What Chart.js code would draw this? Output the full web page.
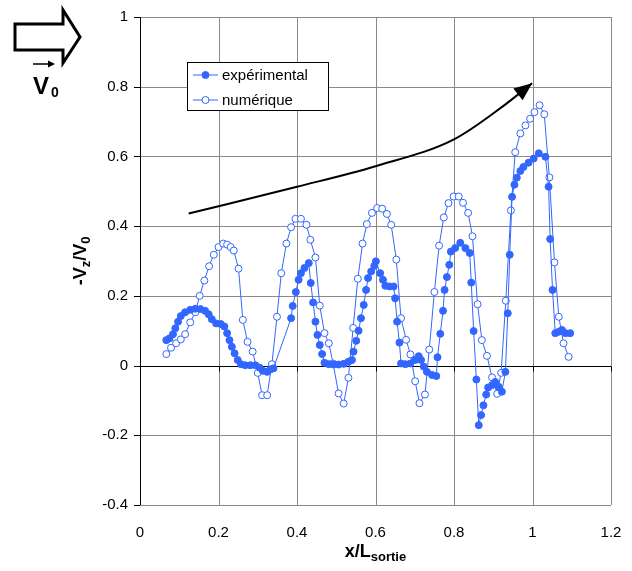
<!DOCTYPE html>
<html>
<head>
<meta charset="utf-8">
<script src="https://cdn.jsdelivr.net/npm/chart.js@4/dist/chart.umd.min.js"></script>
<style>
    html, body { margin: 0; padding: 0; background: #fff; }
    #wrap { position: relative; width: 632px; height: 571px; }
</style>
</head>
<body>
<div id="wrap"><canvas id="chart"></canvas></div>
<script>
// Series values
const expX = [0.067, 0.075, 0.084, 0.090, 0.097, 0.104, 0.115, 0.128, 0.141, 0.154,
    0.166, 0.175, 0.183, 0.194, 0.206, 0.215, 0.222, 0.228, 0.234, 0.241,
    0.249, 0.257, 0.268, 0.281, 0.294, 0.305, 0.313, 0.324, 0.332, 0.340,
    0.385, 0.389, 0.397, 0.404, 0.410, 0.419, 0.430, 0.435, 0.441, 0.447,
    0.452, 0.458, 0.464, 0.470, 0.481, 0.493, 0.506, 0.519, 0.531, 0.540,
    0.544, 0.551, 0.557, 0.563, 0.570, 0.576, 0.581, 0.589, 0.597, 0.601,
    0.612, 0.619, 0.625, 0.636, 0.646, 0.650, 0.655, 0.661, 0.665, 0.676,
    0.689, 0.701, 0.710, 0.716, 0.723, 0.731, 0.744, 0.755,
    0.758, 0.765, 0.772, 0.776, 0.782, 0.788, 0.792, 0.803, 0.816, 0.829,
    0.840, 0.844, 0.850, 0.857, 0.863, 0.869, 0.875, 0.882, 0.887, 0.897,
    0.905, 0.914, 0.922,
    0.931, 0.937, 0.942, 0.948, 0.954, 0.960, 0.969, 0.977, 0.990, 1.003,
    1.016, 1.033, 1.041, 1.045, 1.051, 1.058, 1.067, 1.075, 1.084, 1.096];
const expY = [0.073, 0.078, 0.090, 0.107, 0.126, 0.142, 0.153, 0.160, 0.163, 0.162,
    0.157, 0.147, 0.133, 0.121, 0.119, 0.112, 0.093, 0.073, 0.054, 0.035,
    0.016, 0.004, 0.001, 0.001, 0.001, -0.006, -0.015, -0.018, -0.011, -0.008,
    0.136, 0.171, 0.211, 0.246, 0.265, 0.280, 0.294, 0.237, 0.181, 0.126,
    0.088, 0.059, 0.033, 0.008, 0.004, 0.003, 0.003, 0.005, 0.011, 0.016,
    0.040, 0.071, 0.100, 0.136, 0.174, 0.217, 0.251, 0.270, 0.286, 0.299,
    0.265, 0.246, 0.229, 0.227, 0.227, 0.193, 0.126, 0.066, 0.006, 0.004,
    0.006, 0.016, 0.027, 0.016, -0.003, -0.018, -0.027, -0.030,
    0.024, 0.091, 0.157, 0.217, 0.254, 0.289, 0.327, 0.337, 0.352, 0.337,
    0.323, 0.238, 0.099, -0.040, -0.171, -0.142, -0.114, -0.083, -0.063, -0.056,
    -0.047, -0.061, -0.075,
    -0.018, 0.150, 0.318, 0.484, 0.519, 0.539, 0.558, 0.570, 0.582, 0.594,
    0.609, 0.599, 0.513, 0.363, 0.217, 0.093, 0.097, 0.102, 0.093, 0.093];

const numX = [0.067, 0.079, 0.092, 0.104, 0.115, 0.128, 0.141, 0.152, 0.164, 0.176,
    0.188, 0.200, 0.212, 0.222, 0.231, 0.239, 0.251, 0.262, 0.274, 0.287,
    0.300, 0.311, 0.324, 0.336, 0.349, 0.360, 0.373, 0.385, 0.396, 0.410,
    0.424, 0.434, 0.447, 0.458, 0.470, 0.481, 0.492, 0.506, 0.519, 0.531,
    0.543, 0.555, 0.567, 0.578, 0.591, 0.604, 0.617, 0.629, 0.640, 0.653,
    0.665, 0.678, 0.689, 0.701, 0.712, 0.726, 0.737, 0.750, 0.762, 0.774,
    0.786, 0.799, 0.812, 0.823, 0.836, 0.847, 0.860, 0.871, 0.884, 0.897,
    0.910, 0.920, 0.932, 0.945, 0.956, 0.969, 0.982, 0.994, 1.005, 1.018,
    1.030, 1.043, 1.056, 1.067, 1.079, 1.092];
const numY = [0.033, 0.051, 0.064, 0.075, 0.090, 0.124, 0.153, 0.200, 0.244, 0.285,
    0.318, 0.340, 0.350, 0.347, 0.340, 0.330, 0.278, 0.131, 0.068, 0.040,
    -0.021, -0.085, -0.085, 0.004, 0.140, 0.265, 0.350, 0.397, 0.421, 0.421,
    0.404, 0.361, 0.310, 0.172, 0.093, 0.064, 0.006, -0.080, -0.109, -0.035,
    0.108, 0.249, 0.350, 0.406, 0.438, 0.452, 0.450, 0.435, 0.404, 0.304,
    0.136, 0.074, 0.032, -0.045, -0.108, -0.083, 0.046, 0.211, 0.344, 0.425,
    0.466, 0.485, 0.485, 0.467, 0.438, 0.371, 0.176, 0.073, 0.028, -0.034,
    -0.081, -0.021, 0.186, 0.445, 0.612, 0.666, 0.689, 0.708, 0.727, 0.747,
    0.721, 0.540, 0.296, 0.140, 0.064, 0.025];

// Trend arrow drawn over the plot
const trendX = [0.124, 0.4, 0.6, 0.8, 0.926, 0.999];
const trendY = [0.436, 0.513, 0.572, 0.649, 0.745, 0.81];

// Axis settings
const xMin = 0, xMax = 1.2, xStep = 0.2;
const yMin = -0.4, yMax = 1, yStep = 0.2;

const seriesNames = ['expérimental', 'numérique'];
const blue = '#3366ff';
const gridGrey = '#8a8a8a';
const FONT = '"Liberation Sans", Arial, sans-serif';

function toPoints(xs, ys) {
    return xs.map((x, i) => ({ x: x, y: ys[i] }));
}

// Draw text made of normal and subscript parts, centred on x
function drawParts(ctx, parts, x, y) {
    let total = 0;
    parts.forEach(p => {
        ctx.font = p.font;
        p.w = ctx.measureText(p.text).width;
        total += p.w;
    });
    let cx = x - total / 2;
    parts.forEach(p => {
        ctx.font = p.font;
        ctx.fillText(p.text, cx, y + (p.dy || 0));
        cx += p.w;
    });
}

// Grid drawn by hand so it stays crisp and under the data
const gridPlugin = {
    id: 'gridLines',
    beforeDatasetsDraw(chart) {
        const ctx = chart.ctx;
        const xs = chart.scales.x, ys = chart.scales.y;
        const a = chart.chartArea;
        ctx.save();
        ctx.lineWidth = 1;
        for (let i = 0; i <= Math.round((xMax - xMin) / xStep); i++) {
            const px = Math.round(xs.getPixelForValue(xMin + i * xStep)) + 0.5;
            ctx.strokeStyle = i === 0 ? '#000' : gridGrey;
            ctx.beginPath();
            ctx.moveTo(px, a.top);
            ctx.lineTo(px, a.bottom);
            ctx.stroke();
        }
        for (let i = 0; i <= Math.round((yMax - yMin) / yStep); i++) {
            const v = yMin + i * yStep;
            const py = Math.round(ys.getPixelForValue(v)) + 0.5;
            ctx.strokeStyle = Math.abs(v) < 1e-9 ? '#000' : gridGrey;
            ctx.beginPath();
            ctx.moveTo(a.left, py);
            ctx.lineTo(a.right, py);
            ctx.stroke();
            // outside tick on the y axis
            ctx.strokeStyle = '#000';
            ctx.beginPath();
            ctx.moveTo(a.left - 6, py);
            ctx.lineTo(a.left, py);
            ctx.stroke();
        }
        // small ticks below the zero line
        const y0 = Math.round(ys.getPixelForValue(0)) + 0.5;
        ctx.strokeStyle = '#000';
        for (let i = 1; i <= Math.round((xMax - xMin) / xStep); i++) {
            const px = Math.round(xs.getPixelForValue(xMin + i * xStep)) + 0.5;
            ctx.beginPath();
            ctx.moveTo(px, y0);
            ctx.lineTo(px, y0 + 5);
            ctx.stroke();
        }
        // redraw zero line and y axis on top of grey lines
        ctx.beginPath();
        ctx.moveTo(a.left, y0);
        ctx.lineTo(a.right, y0);
        ctx.stroke();
        const x0 = Math.round(xs.getPixelForValue(0)) + 0.5;
        ctx.beginPath();
        ctx.moveTo(x0, a.top);
        ctx.lineTo(x0, a.bottom);
        ctx.stroke();
        ctx.restore();
    }
};

const extrasPlugin = {
    id: 'extras',
    afterDatasetsDraw(chart) {
        const ctx = chart.ctx;
        const xs = chart.scales.x, ys = chart.scales.y;
        ctx.save();

        // arrowhead at the end of the trend curve
        const n = trendX.length;
        const tipX = xs.getPixelForValue(trendX[n - 1]);
        const tipY = ys.getPixelForValue(trendY[n - 1]);
        const bx = xs.getPixelForValue(trendX[n - 2]);
        const by = ys.getPixelForValue(trendY[n - 2]);
        const ang = Math.atan2(tipY - by, tipX - bx);
        const len = 18, half = 7.5;
        ctx.fillStyle = '#000';
        ctx.beginPath();
        ctx.moveTo(tipX, tipY);
        ctx.lineTo(tipX - len * Math.cos(ang) + half * Math.sin(ang), tipY - len * Math.sin(ang) - half * Math.cos(ang));
        ctx.lineTo(tipX - len * Math.cos(ang) - half * Math.sin(ang), tipY - len * Math.sin(ang) + half * Math.cos(ang));
        ctx.closePath();
        ctx.fill();

        // legend box
        const lx = 187.5, ly = 62.5, lw = 141, lh = 48;
        ctx.lineWidth = 1;
        ctx.fillStyle = '#fff';
        ctx.fillRect(lx, ly, lw, lh);
        ctx.strokeStyle = '#000';
        ctx.strokeRect(lx, ly, lw, lh);
        ctx.font = '15px ' + FONT;
        ctx.textBaseline = 'middle';
        seriesNames.forEach((name, i) => {
            const ry = 75 + i * 25;
            ctx.strokeStyle = blue;
            ctx.beginPath();
            ctx.moveTo(193, ry);
            ctx.lineTo(218, ry);
            ctx.stroke();
            ctx.beginPath();
            ctx.arc(205.5, ry, 3.5, 0, Math.PI * 2);
            ctx.fillStyle = i === 0 ? blue : '#fff';
            ctx.fill();
            ctx.stroke();
            ctx.fillStyle = '#000';
            ctx.fillText(name, 222, ry + 1);
        });

        // axis titles with subscripts
        ctx.fillStyle = '#000';
        ctx.textBaseline = 'alphabetic';
        ctx.textAlign = 'left';
        const cxPlot = (chart.chartArea.left + chart.chartArea.right) / 2;
        drawParts(ctx, [
            { text: 'x/L', font: 'bold 18px ' + FONT },
            { text: 'sortie', font: 'bold 13px ' + FONT, dy: 4 }
        ], cxPlot, 557);

        ctx.save();
        ctx.translate(86, (chart.chartArea.top + chart.chartArea.bottom) / 2);
        ctx.rotate(-Math.PI / 2);
        drawParts(ctx, [
            { text: '-V', font: 'bold 18px ' + FONT },
            { text: 'z', font: 'bold 13px ' + FONT, dy: 4 },
            { text: '/V', font: 'bold 18px ' + FONT },
            { text: '0', font: 'bold 13px ' + FONT, dy: 4 }
        ], 0, 0);
        ctx.restore();

        // inlet velocity symbol, top left
        ctx.strokeStyle = '#000';
        ctx.lineWidth = 3;
        ctx.lineJoin = 'miter';
        ctx.beginPath();
        ctx.moveTo(15, 24);
        ctx.lineTo(63, 24);
        ctx.lineTo(63, 10);
        ctx.lineTo(80, 37);
        ctx.lineTo(63, 63);
        ctx.lineTo(63, 50);
        ctx.lineTo(15, 50);
        ctx.closePath();
        ctx.stroke();

        ctx.lineWidth = 1.5;
        ctx.beginPath();
        ctx.moveTo(33, 64);
        ctx.lineTo(50, 64);
        ctx.stroke();
        ctx.fillStyle = '#000';
        ctx.beginPath();
        ctx.moveTo(55, 64);
        ctx.lineTo(48, 60.5);
        ctx.lineTo(48, 67.5);
        ctx.closePath();
        ctx.fill();
        ctx.font = 'bold 24px ' + FONT;
        ctx.fillText('V', 33, 94);
        ctx.font = 'bold 14px ' + FONT;
        ctx.fillText('0', 51, 97);

        ctx.restore();
    }
};

function formatTick(v) {
    return String(Number(v.toFixed(1)));
}

document.addEventListener('DOMContentLoaded', function() {
    const ctx = document.getElementById('chart').getContext('2d');
    new Chart(ctx, {
        type: 'scatter',
        data: {
            datasets: [
                {
                    label: 'trend',
                    data: toPoints(trendX, trendY),
                    showLine: true,
                    borderColor: '#000',
                    borderWidth: 2,
                    pointRadius: 0,
                    cubicInterpolationMode: 'monotone'
                },
                {
                    label: seriesNames[0],
                    data: toPoints(expX, expY),
                    showLine: true,
                    borderColor: blue,
                    backgroundColor: blue,
                    borderWidth: 1,
                    pointRadius: 3.5,
                    pointBorderWidth: 1
                },
                {
                    label: seriesNames[1],
                    data: toPoints(numX, numY),
                    showLine: true,
                    borderColor: blue,
                    backgroundColor: '#fff',
                    pointBackgroundColor: '#fff',
                    borderWidth: 1,
                    pointRadius: 3.5,
                    pointBorderWidth: 1
                }
            ]
        },
        options: {
            responsive: true,
            maintainAspectRatio: false,
            animation: false,
            devicePixelRatio: 1,
            layout: { padding: { top: 17, right: 21, left: 0, bottom: 0 } },
            plugins: {
                legend: { display: false },
                tooltip: { enabled: false }
            },
            scales: {
                x: {
                    type: 'linear',
                    min: xMin,
                    max: xMax,
                    afterFit: s => {
                        s.height = 66;
                        s.paddingLeft = 0;
                        s.paddingRight = 0;
                    },
                    ticks: {
                        stepSize: xStep,
                        color: '#000',
                        font: { family: FONT, size: 15 },
                        padding: 19,
                        maxRotation: 0,
                        callback: formatTick
                    },
                    grid: { display: false, drawTicks: false },
                    border: { display: false }
                },
                y: {
                    type: 'linear',
                    min: yMin,
                    max: yMax,
                    afterFit: s => {
                        s.width = 140;
                        s.paddingTop = 0;
                        s.paddingBottom = 0;
                    },
                    ticks: {
                        stepSize: yStep,
                        color: '#000',
                        font: { family: FONT, size: 15 },
                        padding: 12,
                        callback: formatTick
                    },
                    grid: { display: false, drawTicks: false },
                    border: { display: false }
                }
            }
        },
        plugins: [gridPlugin, extrasPlugin]
    });
});
</script>
</body>
</html>
